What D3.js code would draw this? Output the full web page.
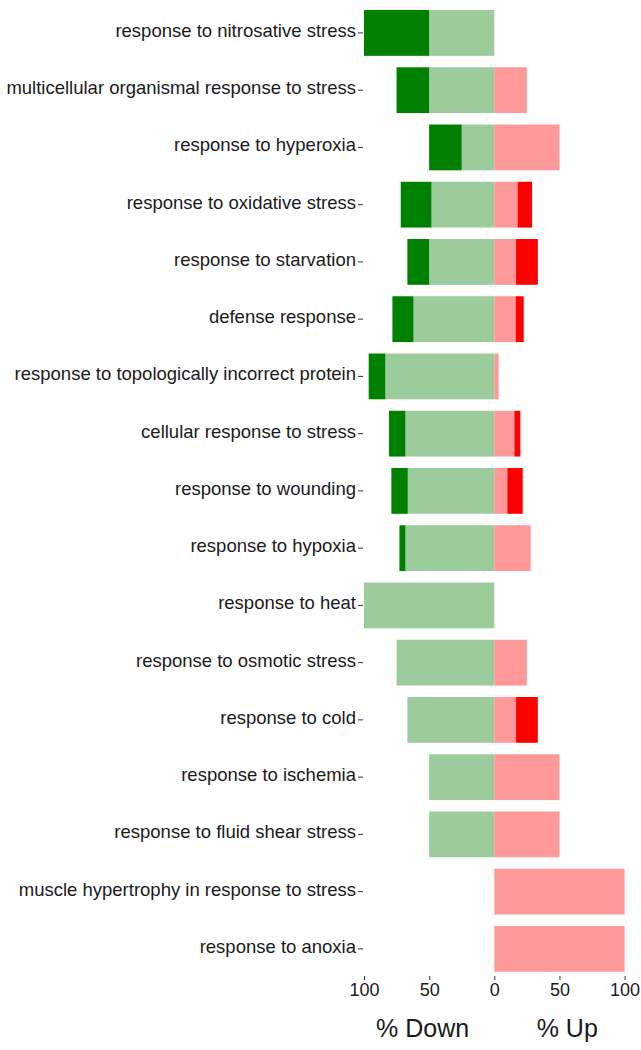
<!DOCTYPE html>
<html lang="en">
<head>
    <meta charset="UTF-8">
    <title>Stress response GO terms</title>
    <script src="https://d3js.org/d3.v7.min.js"></script>
    <style>
        body { margin: 0; background: #fff; }
        text { font-family: "Liberation Sans", Arial, sans-serif; fill: #1a1a1a; }
    </style>
</head>
<body>
    <script>
var categories = [
    'response to nitrosative stress',
    'multicellular organismal response to stress',
    'response to hyperoxia',
    'response to oxidative stress',
    'response to starvation',
    'defense response',
    'response to topologically incorrect protein',
    'cellular response to stress',
    'response to wounding',
    'response to hypoxia',
    'response to heat',
    'response to osmotic stress',
    'response to cold',
    'response to ischemia',
    'response to fluid shear stress',
    'muscle hypertrophy in response to stress',
    'response to anoxia'
];
// % of genes, strongly / weakly changed
var downStrong = [50, 25, 25, 23.6, 16.7, 16.2, 12.8, 12.6, 12.6, 4.6, 0, 0, 0, 0, 0, 0, 0];
var downWeak   = [50, 50, 25, 48.2, 50, 62, 83.6, 68.2, 66.4, 68.2, 100, 75, 66.7, 50, 50, 0, 0];
var upWeak     = [0, 25, 50, 17.9, 16.7, 16.4, 3.3, 15.4, 10, 27.9, 0, 25, 16.7, 50, 50, 100, 100];
var upStrong   = [0, 0, 0, 11.1, 16.7, 6.2, 0, 4.6, 11.8, 0, 0, 0, 16.7, 0, 0, 0, 0];
var xTicks = [-100, -50, 0, 50, 100];

var width = 641, height = 1050;

var svg = d3.select('body').append('svg')
    .attr('width', width)
    .attr('height', height);

var x = d3.scaleLinear().domain([-100, 100]).range([364, 624.6]);
var y = d3.scaleBand().domain(categories)
    .range([4.3, 977.5])
    .paddingInner(0.2)
    .paddingOuter(0.1);

var rows = categories.map(function(c, i) {
    return {cat: c, dS: downStrong[i], dW: downWeak[i], uW: upWeak[i], uS: upStrong[i]};
});

// segments: [start, end, colour]
var segs = [];
rows.forEach(function(r) {
    segs.push({cat: r.cat, a: -r.dW, b: 0, col: '#9ccc9c'});
    segs.push({cat: r.cat, a: -(r.dW + r.dS), b: -r.dW, col: '#008000'});
    segs.push({cat: r.cat, a: 0, b: r.uW, col: '#ff9999'});
    segs.push({cat: r.cat, a: r.uW, b: r.uW + r.uS, col: '#ff0000'});
});

svg.append('g').selectAll('rect')
    .data(segs.filter(function(d) { return d.b - d.a > 0; }))
    .enter().append('rect')
    .attr('x', function(d) { return x(d.a); })
    .attr('width', function(d) { return x(d.b) - x(d.a); })
    .attr('y', function(d) { return y(d.cat); })
    .attr('height', y.bandwidth())
    .attr('fill', function(d) { return d.col; });

// y axis (labels + small ticks)
var yAxis = svg.append('g')
    .attr('transform', 'translate(363,0)')
    .call(d3.axisLeft(y).tickSize(5).tickPadding(2));
yAxis.select('.domain').remove();
yAxis.selectAll('.tick line').attr('stroke', '#333');
yAxis.selectAll('.tick text')
    .attr('font-size', '18.5px')
    .attr('font-family', '"Liberation Sans", Arial, sans-serif')
    .attr('fill', '#1a1a1a')
    .attr('dy', '0.22em');

// x axis
var xAxis = svg.append('g')
    .attr('transform', 'translate(0,976)')
    .call(d3.axisBottom(x).tickValues(xTicks)
        .tickSize(4).tickPadding(3)
        .tickFormat(function(d) { return Math.abs(d); }));
xAxis.select('.domain').remove();
xAxis.selectAll('.tick line').attr('stroke', '#333');
xAxis.selectAll('.tick text')
    .attr('font-size', '18px')
    .attr('font-family', '"Liberation Sans", Arial, sans-serif')
    .attr('fill', '#1a1a1a');

svg.append('text')
    .attr('x', x(-55)).attr('y', 1037)
    .attr('text-anchor', 'middle')
    .attr('font-size', '25px')
    .text('% Down');
svg.append('text')
    .attr('x', x(56)).attr('y', 1037)
    .attr('text-anchor', 'middle')
    .attr('font-size', '25px')
    .text('% Up');
    </script>
</body>
</html>
